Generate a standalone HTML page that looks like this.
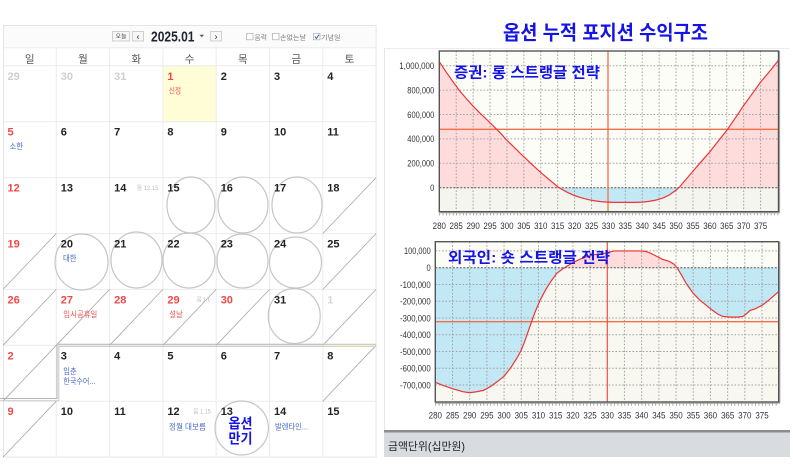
<!DOCTYPE html>
<html><head><meta charset="utf-8"><style>
html,body{margin:0;padding:0;background:#fff;}
svg{display:block;font-family:"Liberation Sans","Noto Sans CJK KR",sans-serif;}
</style></head><body>
<svg width="793" height="469" viewBox="0 0 793 469" xmlns="http://www.w3.org/2000/svg">
<defs>
<clipPath id="c1a"><rect x="439.3" y="51" width="339.2" height="136.7"/></clipPath>
<clipPath id="c1b"><rect x="439.3" y="187.7" width="339.2" height="24"/></clipPath>
<clipPath id="c1"><rect x="439.3" y="51" width="339.2" height="160.7"/></clipPath>
<clipPath id="c2a"><rect x="435.3" y="241.7" width="343.4" height="26"/></clipPath>
<clipPath id="c2b"><rect x="435.3" y="267.7" width="343.4" height="134.3"/></clipPath>
<clipPath id="c2"><rect x="435.3" y="241.7" width="343.4" height="160.3"/></clipPath>
</defs>
<rect x="0" y="0" width="793" height="469" fill="#fff"/>

<!-- ================= CALENDAR ================= -->
<rect x="3.5" y="25.5" width="372.6" height="431.6" fill="#fff" stroke="#e4e4e4"/>
<rect x="4" y="26" width="371.6" height="21.7" fill="#fbfbfc"/>
<rect x="162.9" y="65.8" width="53.3" height="55.9" fill="#fefdd6"/>
<g stroke="#ececec" stroke-width="1">
<line x1="3" y1="47.7" x2="376" y2="47.7"/>
<line x1="3" y1="65.8" x2="376" y2="65.8"/>
<line x1="3" y1="121.7" x2="376" y2="121.7"/>
<line x1="3" y1="177.6" x2="376" y2="177.6"/>
<line x1="3" y1="233.5" x2="376" y2="233.5"/>
<line x1="3" y1="289.4" x2="376" y2="289.4"/>
<line x1="3" y1="345.3" x2="376" y2="345.3"/>
<line x1="3" y1="401.2" x2="376" y2="401.2"/>
<line x1="56.3" y1="47.7" x2="56.3" y2="457"/>
<line x1="109.6" y1="47.7" x2="109.6" y2="457"/>
<line x1="162.9" y1="47.7" x2="162.9" y2="457"/>
<line x1="216.2" y1="47.7" x2="216.2" y2="457"/>
<line x1="269.5" y1="47.7" x2="269.5" y2="457"/>
<line x1="322.8" y1="47.7" x2="322.8" y2="457"/>
</g>

<!-- toolbar -->
<rect x="112.5" y="31.5" width="17" height="9.5" fill="#f7f7f7" stroke="#c5c5c5" stroke-width="0.8"/>
<text x="121" y="38.6" font-size="6" fill="#444" text-anchor="middle">오늘</text>
<rect x="132.5" y="31.5" width="11" height="9.5" fill="#f7f7f7" stroke="#c5c5c5" stroke-width="0.8"/>
<text x="138" y="39.6" font-size="9" fill="#333" text-anchor="middle">‹</text>
<text x="151" y="41.6" font-size="15" font-weight="bold" fill="#1e2430" textLength="43.5" lengthAdjust="spacingAndGlyphs">2025.01</text>
<polygon points="199.5,34.8 204,34.8 201.75,37.3" fill="#555"/>
<rect x="210.5" y="31.5" width="11" height="9.5" fill="#f7f7f7" stroke="#c5c5c5" stroke-width="0.8"/>
<text x="216" y="39.6" font-size="9" fill="#333" text-anchor="middle">›</text>
<rect x="246.5" y="33.3" width="6.5" height="6.5" fill="#fff" stroke="#aaa" stroke-width="0.7"/>
<text x="254.5" y="39.3" font-size="6.5" fill="#777" textLength="12.5" lengthAdjust="spacingAndGlyphs">음력</text>
<rect x="272.5" y="33.3" width="6.5" height="6.5" fill="#fff" stroke="#aaa" stroke-width="0.7"/>
<text x="280" y="39.3" font-size="6.5" fill="#777" textLength="26" lengthAdjust="spacingAndGlyphs">손없는날</text>
<rect x="313.5" y="33.3" width="6.5" height="6.5" fill="#fff" stroke="#aaa" stroke-width="0.7"/>
<polyline points="314.8,36.6 316.4,38.4 319,34.6" fill="none" stroke="#3060c0" stroke-width="1"/>
<text x="321" y="39.3" font-size="6.5" fill="#777" textLength="19.5" lengthAdjust="spacingAndGlyphs">기념일</text>

<!-- weekday header -->
<g font-size="10.5" fill="#555" text-anchor="middle">
<text x="29.65" y="62.5">일</text><text x="82.95" y="62.5">월</text><text x="136.25" y="62.5">화</text>
<text x="189.55" y="62.5">수</text><text x="242.85" y="62.5">목</text><text x="296.15" y="62.5">금</text>
<text x="349.45" y="62.5">토</text>
</g>

<!-- diagonals -->
<g stroke="#a8a8a8" stroke-width="0.8">
<line x1="322.8" y1="233.5" x2="376.1" y2="177.6"/>
<line x1="3" y1="289.4" x2="56.3" y2="233.5"/>
<line x1="322.8" y1="289.4" x2="376.1" y2="233.5"/>
<line x1="3" y1="345.3" x2="56.3" y2="289.4"/>
<line x1="56.3" y1="345.3" x2="109.6" y2="289.4"/>
<line x1="109.6" y1="345.3" x2="162.9" y2="289.4"/>
<line x1="162.9" y1="345.3" x2="216.2" y2="289.4"/>
<line x1="216.2" y1="345.3" x2="269.5" y2="289.4"/>
<line x1="322.8" y1="345.3" x2="376.1" y2="289.4"/>
<line x1="3" y1="401.2" x2="56.3" y2="345.3"/>
<line x1="322.8" y1="401.2" x2="376.1" y2="345.3"/>
<line x1="3" y1="457.1" x2="56.3" y2="401.2"/>
</g>

<!-- highlight double border -->
<g fill="none">
<polyline points="0,398.5 57,398.5 57,344.3 322.8,344.3" stroke="#b4b4b4" stroke-width="1"/>
<polyline points="0,400.8 58.8,400.8 58.8,346.4 322.8,346.4" stroke="#c8c8c8" stroke-width="1"/>
<line x1="322.8" y1="344.3" x2="376.1" y2="344.3" stroke="#c4c4a4" stroke-width="1"/>
<line x1="322.8" y1="346.4" x2="376.1" y2="346.4" stroke="#d4d4b8" stroke-width="1"/>
</g>

<!-- circles -->
<g fill="none" stroke="#c6c6c6" stroke-width="1.2">
<ellipse cx="191" cy="205" rx="24" ry="28"/>
<ellipse cx="243" cy="205" rx="25" ry="28"/>
<ellipse cx="297" cy="205" rx="25" ry="28"/>
<ellipse cx="81.5" cy="262" rx="26.5" ry="28"/>
<ellipse cx="136.5" cy="260" rx="25.5" ry="28"/>
<ellipse cx="189" cy="260.5" rx="26" ry="27.5"/>
<ellipse cx="242.5" cy="261" rx="25.5" ry="27"/>
<ellipse cx="295.5" cy="262.5" rx="26" ry="25.5"/>
<ellipse cx="294.2" cy="316" rx="26" ry="27.5"/>
<ellipse cx="241.7" cy="428" rx="26.7" ry="27"/>
</g>

<!-- day numbers -->
<g font-size="11" font-weight="bold" fill="#222">
<text x="7.5" y="79.8" fill="#cfcfcf">29</text><text x="60.8" y="79.8" fill="#cfcfcf">30</text><text x="114.1" y="79.8" fill="#cfcfcf">31</text>
<text x="167.4" y="79.8" fill="#f04848">1</text><text x="220.7" y="79.8">2</text><text x="274" y="79.8">3</text><text x="327.3" y="79.8">4</text>

<text x="7.5" y="135.7" fill="#f04848">5</text><text x="60.8" y="135.7">6</text><text x="114.1" y="135.7">7</text>
<text x="167.4" y="135.7">8</text><text x="220.7" y="135.7">9</text><text x="274" y="135.7">10</text><text x="327.3" y="135.7">11</text>

<text x="7.5" y="191.6" fill="#f04848">12</text><text x="60.8" y="191.6">13</text><text x="114.1" y="191.6">14</text>
<text x="167.4" y="191.6">15</text><text x="220.7" y="191.6">16</text><text x="274" y="191.6">17</text><text x="327.3" y="191.6">18</text>

<text x="7.5" y="247.5" fill="#f04848">19</text><text x="60.8" y="247.5">20</text><text x="114.1" y="247.5">21</text>
<text x="167.4" y="247.5">22</text><text x="220.7" y="247.5">23</text><text x="274" y="247.5">24</text><text x="327.3" y="247.5">25</text>

<text x="7.5" y="303.4" fill="#f04848">26</text><text x="60.8" y="303.4" fill="#f04848">27</text><text x="114.1" y="303.4" fill="#f04848">28</text>
<text x="167.4" y="303.4" fill="#f04848">29</text><text x="220.7" y="303.4" fill="#f04848">30</text><text x="274" y="303.4">31</text><text x="327.3" y="303.4" fill="#d6d6d6">1</text>

<text x="7.5" y="359.3" fill="#f04848">2</text><text x="60.8" y="359.3">3</text><text x="114.1" y="359.3">4</text>
<text x="167.4" y="359.3">5</text><text x="220.7" y="359.3">6</text><text x="274" y="359.3">7</text><text x="327.3" y="359.3">8</text>

<text x="7.5" y="415.2" fill="#f04848">9</text><text x="60.8" y="415.2">10</text><text x="114.1" y="415.2">11</text>
<text x="167.4" y="415.2">12</text><text x="220.7" y="415.2">13</text><text x="274" y="415.2">14</text><text x="327.3" y="415.2">15</text>
</g>

<!-- lunar small -->
<g font-size="6" fill="#bbbbbb">
<text x="136.7" y="189.9" textLength="21.5" lengthAdjust="spacingAndGlyphs">음 12.15</text>
<text x="196.7" y="301.7" textLength="13.5" lengthAdjust="spacingAndGlyphs">음 1.1</text>
<text x="193.3" y="413.5" textLength="17.5" lengthAdjust="spacingAndGlyphs">음 1.15</text>
</g>

<!-- labels -->
<g font-size="8">
<text x="168.7" y="93.3" fill="#f05050" textLength="12.5" lengthAdjust="spacingAndGlyphs">신정</text>
<text x="9.5" y="149.2" fill="#4466cc" textLength="13.5" lengthAdjust="spacingAndGlyphs">소한</text>
<text x="63" y="261" fill="#4466cc" textLength="13.5" lengthAdjust="spacingAndGlyphs">대한</text>
<text x="63.3" y="316.9" fill="#f05050" textLength="34" lengthAdjust="spacingAndGlyphs">임시공휴일</text>
<text x="169.3" y="316.9" fill="#f05050" textLength="13.5" lengthAdjust="spacingAndGlyphs">설날</text>
<text x="63.3" y="374" fill="#4466cc" textLength="13.5" lengthAdjust="spacingAndGlyphs">입춘</text>
<text x="63.3" y="384.2" fill="#4466cc" textLength="32" lengthAdjust="spacingAndGlyphs">한국수어...</text>
<text x="169" y="429.7" fill="#4466cc" textLength="37" lengthAdjust="spacingAndGlyphs">정월 대보름</text>
<text x="275" y="429.7" fill="#4466cc" textLength="33" lengthAdjust="spacingAndGlyphs">발렌타인...</text>
</g>
<g font-size="14" font-weight="bold" fill="#1414e6">
<text x="228.5" y="428.5" textLength="24" lengthAdjust="spacingAndGlyphs">옵션</text>
<text x="228.5" y="443.5" textLength="24" lengthAdjust="spacingAndGlyphs">만기</text>
</g>

<!-- ================= RIGHT PANEL ================= -->
<line x1="384" y1="48.5" x2="790" y2="48.5" stroke="#ececec"/>
<line x1="384.5" y1="48" x2="384.5" y2="430" stroke="#e6e6e6"/>
<text x="503" y="39.5" font-size="20" font-weight="bold" fill="#1414e6" textLength="205" lengthAdjust="spacingAndGlyphs">옵션 누적 포지션 수익구조</text>

<!-- ===== Chart 1 ===== -->
<rect x="439.3" y="51" width="339.2" height="136.7" fill="#fdfdf8"/>
<rect x="439.3" y="187.7" width="339.2" height="24" fill="#f5f5ef"/>
<g clip-path="url(#c1a)"><g transform="matrix(3.382 0 0 -0.122 -507.66 187.7)">
<polygon fill="#ffdcdc" points="280,0 280,1033 282,950 284,870 286,795 288,730 290,668 292,612 294,560 296,505 298,450 300,388 302,335 304,280 306,228 308,175 310,125 312,78 314,32 315,8 316,-10 318,-40 320,-65 322,-83 324,-97 326,-108 328,-115 330,-118 332,-120 335,-120 338,-120 340,-118 342,-112 344,-102 346,-86 348,-60 350,-20 351,5 353,70 355,135 357,200 360,295 362,365 365,470 368,590 370,675 372,750 375,865 378,965 380.3,1045 380.3,0"/>
</g></g>
<g clip-path="url(#c1b)"><g transform="matrix(3.382 0 0 -0.122 -507.66 187.7)">
<polygon fill="#c2e7f5" points="280,0 280,1033 282,950 284,870 286,795 288,730 290,668 292,612 294,560 296,505 298,450 300,388 302,335 304,280 306,228 308,175 310,125 312,78 314,32 315,8 316,-10 318,-40 320,-65 322,-83 324,-97 326,-108 328,-115 330,-118 332,-120 335,-120 338,-120 340,-118 342,-112 344,-102 346,-86 348,-60 350,-20 351,5 353,70 355,135 357,200 360,295 362,365 365,470 368,590 370,675 372,750 375,865 378,965 380.3,1045 380.3,0"/>
</g></g>
<g stroke="#a2a2a2" stroke-width="1" stroke-dasharray="1.6 1.8">
<line x1="456.21" y1="51" x2="456.21" y2="211.7"/><line x1="473.12" y1="51" x2="473.12" y2="211.7"/>
<line x1="490.03" y1="51" x2="490.03" y2="211.7"/><line x1="506.94" y1="51" x2="506.94" y2="211.7"/>
<line x1="523.85" y1="51" x2="523.85" y2="211.7"/><line x1="540.76" y1="51" x2="540.76" y2="211.7"/>
<line x1="557.67" y1="51" x2="557.67" y2="211.7"/><line x1="574.58" y1="51" x2="574.58" y2="211.7"/>
<line x1="591.49" y1="51" x2="591.49" y2="211.7"/>
<line x1="625.31" y1="51" x2="625.31" y2="211.7"/><line x1="642.22" y1="51" x2="642.22" y2="211.7"/>
<line x1="659.13" y1="51" x2="659.13" y2="211.7"/><line x1="676.04" y1="51" x2="676.04" y2="211.7"/>
<line x1="692.95" y1="51" x2="692.95" y2="211.7"/><line x1="709.86" y1="51" x2="709.86" y2="211.7"/>
<line x1="726.77" y1="51" x2="726.77" y2="211.7"/><line x1="743.68" y1="51" x2="743.68" y2="211.7"/>
<line x1="760.59" y1="51" x2="760.59" y2="211.7"/>
<line x1="439.3" y1="65.7" x2="778.5" y2="65.7"/><line x1="439.3" y1="90.1" x2="778.5" y2="90.1"/>
<line x1="439.3" y1="114.5" x2="778.5" y2="114.5"/><line x1="439.3" y1="138.9" x2="778.5" y2="138.9"/>
<line x1="439.3" y1="163.3" x2="778.5" y2="163.3"/>
</g>
<line x1="439.3" y1="187.7" x2="778.5" y2="187.7" stroke="#555" stroke-width="1" stroke-dasharray="2 1.5"/>
<line x1="439.3" y1="129.3" x2="778.5" y2="129.3" stroke="#f07048" stroke-width="1.3"/>
<line x1="608" y1="51" x2="608" y2="211.7" stroke="#f07048" stroke-width="1.3"/>
<g clip-path="url(#c1)"><g transform="matrix(3.382 0 0 -0.122 -507.66 187.7)">
<polyline fill="none" stroke="#ee3434" stroke-width="1.2" vector-effect="non-scaling-stroke" points="280,1033 282,950 284,870 286,795 288,730 290,668 292,612 294,560 296,505 298,450 300,388 302,335 304,280 306,228 308,175 310,125 312,78 314,32 315,8 316,-10 318,-40 320,-65 322,-83 324,-97 326,-108 328,-115 330,-118 332,-120 335,-120 338,-120 340,-118 342,-112 344,-102 346,-86 348,-60 350,-20 351,5 353,70 355,135 357,200 360,295 362,365 365,470 368,590 370,675 372,750 375,865 378,965 380.3,1045"/>
</g></g>
<rect x="439.3" y="51" width="339.2" height="160.7" fill="none" stroke="#555" stroke-width="1.4"/>
<line x1="779.6" y1="51" x2="779.6" y2="212.8" stroke="#999" stroke-width="1"/>
<line x1="439.3" y1="212.8" x2="779.6" y2="212.8" stroke="#999" stroke-width="1"/>
<line x1="439.3" y1="214.3" x2="778.5" y2="214.3" stroke="#888" stroke-width="2.2" stroke-dasharray="0.7 2.682"/>
<text x="422" y="50" font-size="1" fill="#fff"> </text>
<g font-size="9.5" fill="#333" text-anchor="end">
<text x="434.3" y="69" textLength="35" lengthAdjust="spacingAndGlyphs">1,000,000</text>
<text x="434.3" y="93.4" textLength="27" lengthAdjust="spacingAndGlyphs">800,000</text>
<text x="434.3" y="117.8" textLength="27" lengthAdjust="spacingAndGlyphs">600,000</text>
<text x="434.3" y="142.2" textLength="27" lengthAdjust="spacingAndGlyphs">400,000</text>
<text x="434.3" y="166.6" textLength="27" lengthAdjust="spacingAndGlyphs">200,000</text>
<text x="434.3" y="191" textLength="4.2" lengthAdjust="spacingAndGlyphs">0</text>
</g>
<g font-size="9.5" fill="#333" text-anchor="middle">
<text x="439.3" y="229" textLength="13.3" lengthAdjust="spacingAndGlyphs">280</text>
<text x="456.21" y="229" textLength="13.3" lengthAdjust="spacingAndGlyphs">285</text>
<text x="473.12" y="229" textLength="13.3" lengthAdjust="spacingAndGlyphs">290</text>
<text x="490.03" y="229" textLength="13.3" lengthAdjust="spacingAndGlyphs">295</text>
<text x="506.94" y="229" textLength="13.3" lengthAdjust="spacingAndGlyphs">300</text>
<text x="523.85" y="229" textLength="13.3" lengthAdjust="spacingAndGlyphs">305</text>
<text x="540.76" y="229" textLength="13.3" lengthAdjust="spacingAndGlyphs">310</text>
<text x="557.67" y="229" textLength="13.3" lengthAdjust="spacingAndGlyphs">315</text>
<text x="574.58" y="229" textLength="13.3" lengthAdjust="spacingAndGlyphs">320</text>
<text x="591.49" y="229" textLength="13.3" lengthAdjust="spacingAndGlyphs">325</text>
<text x="608.4" y="229" textLength="13.3" lengthAdjust="spacingAndGlyphs">330</text>
<text x="625.31" y="229" textLength="13.3" lengthAdjust="spacingAndGlyphs">335</text>
<text x="642.22" y="229" textLength="13.3" lengthAdjust="spacingAndGlyphs">340</text>
<text x="659.13" y="229" textLength="13.3" lengthAdjust="spacingAndGlyphs">345</text>
<text x="676.04" y="229" textLength="13.3" lengthAdjust="spacingAndGlyphs">350</text>
<text x="692.95" y="229" textLength="13.3" lengthAdjust="spacingAndGlyphs">355</text>
<text x="709.86" y="229" textLength="13.3" lengthAdjust="spacingAndGlyphs">360</text>
<text x="726.77" y="229" textLength="13.3" lengthAdjust="spacingAndGlyphs">365</text>
<text x="743.68" y="229" textLength="13.3" lengthAdjust="spacingAndGlyphs">370</text>
<text x="760.59" y="229" textLength="13.3" lengthAdjust="spacingAndGlyphs">375</text>
</g>
<text x="454" y="77.4" font-size="15" font-weight="bold" fill="#1414e6" textLength="146" lengthAdjust="spacingAndGlyphs">증권: 롱 스트랭글 전략</text>

<!-- ===== Chart 2 ===== -->
<rect x="435.3" y="241.7" width="343.4" height="26" fill="#fdfdf8"/>
<rect x="435.3" y="267.7" width="343.4" height="134.3" fill="#f8f8f1"/>
<g clip-path="url(#c2a)"><g transform="matrix(3.439 0 0 -0.1676 -527.62 267.7)">
<polygon fill="#ffdcdc" points="280,0 280,-684 282,-700 285,-722 288,-740 290,-746 292,-740 294,-732 296,-710 298,-680 300,-648 302,-595 304,-530 305,-491 306,-440 307,-380 308,-322 309,-265 310.5,-193 312,-135 313.5,-85 315.3,-34 317,-8 318,5 320,30 322,50 324,65 326,77 328,82 330,88 331,95 332,100 336,100 339,100 341,98 342,92 344,72 346,50 348,38 349.5,20 350.3,0 351.5,-40 353,-95 355,-153 357,-195 358.7,-223 360,-245 362,-275 363.5,-290 366,-295 368,-295 369.5,-290 370.5,-275 371.5,-255 373,-245 375,-225 377,-193 379.8,-143 380.2,-135 380.2,0"/>
</g></g>
<g clip-path="url(#c2b)"><g transform="matrix(3.439 0 0 -0.1676 -527.62 267.7)">
<polygon fill="#c2e7f5" points="280,0 280,-684 282,-700 285,-722 288,-740 290,-746 292,-740 294,-732 296,-710 298,-680 300,-648 302,-595 304,-530 305,-491 306,-440 307,-380 308,-322 309,-265 310.5,-193 312,-135 313.5,-85 315.3,-34 317,-8 318,5 320,30 322,50 324,65 326,77 328,82 330,88 331,95 332,100 336,100 339,100 341,98 342,92 344,72 346,50 348,38 349.5,20 350.3,0 351.5,-40 353,-95 355,-153 357,-195 358.7,-223 360,-245 362,-275 363.5,-290 366,-295 368,-295 369.5,-290 370.5,-275 371.5,-255 373,-245 375,-225 377,-193 379.8,-143 380.2,-135 380.2,0"/>
</g></g>
<g stroke="#a2a2a2" stroke-width="1" stroke-dasharray="1.6 1.8">
<line x1="452.5" y1="241.7" x2="452.5" y2="402"/><line x1="469.69" y1="241.7" x2="469.69" y2="402"/>
<line x1="486.89" y1="241.7" x2="486.89" y2="402"/><line x1="504.08" y1="241.7" x2="504.08" y2="402"/>
<line x1="521.28" y1="241.7" x2="521.28" y2="402"/><line x1="538.47" y1="241.7" x2="538.47" y2="402"/>
<line x1="555.67" y1="241.7" x2="555.67" y2="402"/><line x1="572.86" y1="241.7" x2="572.86" y2="402"/>
<line x1="590.06" y1="241.7" x2="590.06" y2="402"/>
<line x1="624.45" y1="241.7" x2="624.45" y2="402"/><line x1="641.64" y1="241.7" x2="641.64" y2="402"/>
<line x1="658.84" y1="241.7" x2="658.84" y2="402"/><line x1="676.03" y1="241.7" x2="676.03" y2="402"/>
<line x1="693.23" y1="241.7" x2="693.23" y2="402"/><line x1="710.42" y1="241.7" x2="710.42" y2="402"/>
<line x1="727.62" y1="241.7" x2="727.62" y2="402"/><line x1="744.81" y1="241.7" x2="744.81" y2="402"/>
<line x1="762.01" y1="241.7" x2="762.01" y2="402"/>
<line x1="435.3" y1="250.9" x2="778.7" y2="250.9"/><line x1="435.3" y1="284.5" x2="778.7" y2="284.5"/>
<line x1="435.3" y1="301.2" x2="778.7" y2="301.2"/><line x1="435.3" y1="318" x2="778.7" y2="318"/>
<line x1="435.3" y1="334.7" x2="778.7" y2="334.7"/><line x1="435.3" y1="351.5" x2="778.7" y2="351.5"/>
<line x1="435.3" y1="368.3" x2="778.7" y2="368.3"/><line x1="435.3" y1="385" x2="778.7" y2="385"/>
</g>
<line x1="435.3" y1="267.7" x2="778.7" y2="267.7" stroke="#555" stroke-width="1" stroke-dasharray="2 1.5"/>
<line x1="435.3" y1="321.7" x2="778.7" y2="321.7" stroke="#f07048" stroke-width="1.3"/>
<line x1="607.3" y1="241.7" x2="607.3" y2="402" stroke="#ee5040" stroke-width="1.2"/>
<g clip-path="url(#c2)"><g transform="matrix(3.439 0 0 -0.1676 -527.62 267.7)">
<polyline fill="none" stroke="#ee3434" stroke-width="1.2" vector-effect="non-scaling-stroke" points="280,-684 282,-700 285,-722 288,-740 290,-746 292,-740 294,-732 296,-710 298,-680 300,-648 302,-595 304,-530 305,-491 306,-440 307,-380 308,-322 309,-265 310.5,-193 312,-135 313.5,-85 315.3,-34 317,-8 318,5 320,30 322,50 324,65 326,77 328,82 330,88 331,95 332,100 336,100 339,100 341,98 342,92 344,72 346,50 348,38 349.5,20 350.3,0 351.5,-40 353,-95 355,-153 357,-195 358.7,-223 360,-245 362,-275 363.5,-290 366,-295 368,-295 369.5,-290 370.5,-275 371.5,-255 373,-245 375,-225 377,-193 379.8,-143 380.2,-135"/>
</g></g>
<rect x="435.3" y="241.7" width="343.4" height="160.3" fill="none" stroke="#555" stroke-width="1.4"/>
<line x1="779.8" y1="241.7" x2="779.8" y2="403.1" stroke="#999" stroke-width="1"/>
<line x1="435.3" y1="403.1" x2="779.8" y2="403.1" stroke="#999" stroke-width="1"/>
<line x1="435.3" y1="404.6" x2="778.7" y2="404.6" stroke="#888" stroke-width="2.2" stroke-dasharray="0.7 2.739"/>
<g font-size="9.5" fill="#333" text-anchor="end">
<text x="430.7" y="254.2" textLength="26.7" lengthAdjust="spacingAndGlyphs">100,000</text>
<text x="430.7" y="271" textLength="4.2" lengthAdjust="spacingAndGlyphs">0</text>
<text x="430.7" y="287.8" textLength="30.7" lengthAdjust="spacingAndGlyphs">-100,000</text>
<text x="430.7" y="304.5" textLength="30.7" lengthAdjust="spacingAndGlyphs">-200,000</text>
<text x="430.7" y="321.3" textLength="30.7" lengthAdjust="spacingAndGlyphs">-300,000</text>
<text x="430.7" y="338" textLength="30.7" lengthAdjust="spacingAndGlyphs">-400,000</text>
<text x="430.7" y="354.8" textLength="30.7" lengthAdjust="spacingAndGlyphs">-500,000</text>
<text x="430.7" y="371.6" textLength="30.7" lengthAdjust="spacingAndGlyphs">-600,000</text>
<text x="430.7" y="388.3" textLength="30.7" lengthAdjust="spacingAndGlyphs">-700,000</text>
</g>
<g font-size="9.5" fill="#333" text-anchor="middle">
<text x="435.3" y="418.3" textLength="13.3" lengthAdjust="spacingAndGlyphs">280</text>
<text x="452.5" y="418.3" textLength="13.3" lengthAdjust="spacingAndGlyphs">285</text>
<text x="469.69" y="418.3" textLength="13.3" lengthAdjust="spacingAndGlyphs">290</text>
<text x="486.89" y="418.3" textLength="13.3" lengthAdjust="spacingAndGlyphs">295</text>
<text x="504.08" y="418.3" textLength="13.3" lengthAdjust="spacingAndGlyphs">300</text>
<text x="521.28" y="418.3" textLength="13.3" lengthAdjust="spacingAndGlyphs">305</text>
<text x="538.47" y="418.3" textLength="13.3" lengthAdjust="spacingAndGlyphs">310</text>
<text x="555.67" y="418.3" textLength="13.3" lengthAdjust="spacingAndGlyphs">315</text>
<text x="572.86" y="418.3" textLength="13.3" lengthAdjust="spacingAndGlyphs">320</text>
<text x="590.06" y="418.3" textLength="13.3" lengthAdjust="spacingAndGlyphs">325</text>
<text x="607.25" y="418.3" textLength="13.3" lengthAdjust="spacingAndGlyphs">330</text>
<text x="624.45" y="418.3" textLength="13.3" lengthAdjust="spacingAndGlyphs">335</text>
<text x="641.64" y="418.3" textLength="13.3" lengthAdjust="spacingAndGlyphs">340</text>
<text x="658.84" y="418.3" textLength="13.3" lengthAdjust="spacingAndGlyphs">345</text>
<text x="676.03" y="418.3" textLength="13.3" lengthAdjust="spacingAndGlyphs">350</text>
<text x="693.23" y="418.3" textLength="13.3" lengthAdjust="spacingAndGlyphs">355</text>
<text x="710.42" y="418.3" textLength="13.3" lengthAdjust="spacingAndGlyphs">360</text>
<text x="727.62" y="418.3" textLength="13.3" lengthAdjust="spacingAndGlyphs">365</text>
<text x="744.81" y="418.3" textLength="13.3" lengthAdjust="spacingAndGlyphs">370</text>
<text x="762.01" y="418.3" textLength="13.3" lengthAdjust="spacingAndGlyphs">375</text>
</g>
<text x="448" y="262.7" font-size="15" font-weight="bold" fill="#1414e6" textLength="162" lengthAdjust="spacingAndGlyphs">외국인: 숏 스트랭글 전략</text>

<!-- bottom unit bar -->
<rect x="384" y="430" width="406" height="2.5" fill="#8c8c8c"/>
<rect x="384" y="432.5" width="406" height="24.5" fill="#d8dce0"/>
<text x="388" y="450" font-size="11" fill="#222" textLength="77" lengthAdjust="spacingAndGlyphs">금액단위(십만원)</text>
</svg>
</body></html>
